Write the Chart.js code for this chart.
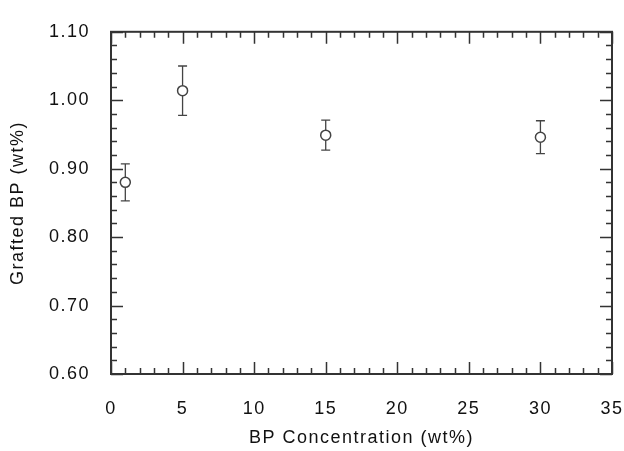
<!DOCTYPE html>
<html>
<head>
<meta charset="utf-8">
<script src="https://cdn.jsdelivr.net/npm/chart.js@4.4.1/dist/chart.umd.min.js"></script>
<style>
    html, body { margin: 0; padding: 0; background: #fff; }
    #wrap { width: 624px; height: 451px; }
</style>
</head>
<body>
<div id="wrap"><canvas id="bpChart" width="624" height="451"></canvas></div>
<script>
// Data
const bpConcentration = [1, 5, 15, 30];
const graftedBP = [0.880, 1.014, 0.949, 0.946];
const graftedErr = [0.027, 0.036, 0.022, 0.024];

const xTicks = [0, 5, 10, 15, 20, 25, 30, 35];
const yTicks = [0.60, 0.70, 0.80, 0.90, 1.00, 1.10];

const inkColor = '#333333';
const fontFamily = '"Liberation Sans", Arial, Helvetica, sans-serif';
const fontSize = 18;
const trackText = '1.5px';

// The original lettering is slightly tracked
const tracking = {
    id: 'tracking',
    beforeUpdate(chart) { chart.ctx.letterSpacing = trackText; },
    beforeLayout(chart) { chart.ctx.letterSpacing = trackText; },
    beforeDraw(chart) { chart.ctx.letterSpacing = trackText; }
};

// Error bars drawn under the markers
const errorBars = {
    id: 'errorBars',
    beforeDatasetsDraw(chart) {
        const { ctx, scales: { x, y } } = chart;
        ctx.save();
        ctx.strokeStyle = '#444444';
        ctx.lineWidth = 1.3;
        bpConcentration.forEach((xv, i) => {
            const px = x.getPixelForValue(xv);
            const top = y.getPixelForValue(graftedBP[i] + graftedErr[i]);
            const bot = y.getPixelForValue(graftedBP[i] - graftedErr[i]);
            ctx.beginPath();
            ctx.moveTo(px, top);
            ctx.lineTo(px, bot);
            ctx.moveTo(px - 4.5, top);
            ctx.lineTo(px + 4.5, top);
            ctx.moveTo(px - 4.5, bot);
            ctx.lineTo(px + 4.5, bot);
            ctx.stroke();
        });
        ctx.restore();
    }
};

// Box frame with inward ticks on all four sides
const frameTicks = {
    id: 'frameTicks',
    afterDraw(chart) {
        const { ctx, chartArea: a, scales: { x, y } } = chart;
        ctx.save();
        ctx.strokeStyle = inkColor;
        ctx.lineWidth = 1.5;
        ctx.beginPath();
        for (let v = 0; v <= 35; v += 1) {
            const px = Math.round(x.getPixelForValue(v)) + 0.5;
            const len = v % 5 === 0 ? 12 : 6;
            ctx.moveTo(px, a.bottom);
            ctx.lineTo(px, a.bottom - len);
            ctx.moveTo(px, a.top);
            ctx.lineTo(px, a.top + len);
        }
        for (let k = 0; k <= 25; k++) {
            const v = 0.60 + k * 0.02;
            const py = Math.round(y.getPixelForValue(v)) + 0.5;
            const len = k % 5 === 0 ? 12 : 6;
            ctx.moveTo(a.left, py);
            ctx.lineTo(a.left + len, py);
            ctx.moveTo(a.right, py);
            ctx.lineTo(a.right - len, py);
        }
        ctx.stroke();
        ctx.lineWidth = 2;
        ctx.strokeRect(a.left, a.top, a.right - a.left, a.bottom - a.top);
        ctx.restore();
    }
};

const chart = new Chart(document.getElementById('bpChart').getContext('2d'), {
    type: 'scatter',
    data: {
        datasets: [{
            label: 'Grafted BP',
            data: bpConcentration.map((xv, i) => ({ x: xv, y: graftedBP[i] })),
            pointStyle: 'circle',
            pointRadius: 5,
            pointBorderWidth: 1.5,
            pointBorderColor: '#444444',
            pointBackgroundColor: '#ffffff',
            showLine: false
        }]
    },
    options: {
        responsive: false,
        animation: false,
        layout: {
            padding: { top: 22, right: 12, left: 0, bottom: 0 }
        },
        plugins: {
            legend: { display: false },
            tooltip: { enabled: false }
        },
        scales: {
            x: {
                type: 'linear',
                min: 0,
                max: 35,
                afterBuildTicks: (scale) => { scale.ticks = xTicks.map(v => ({ value: v })); },
                afterFit: (scale) => {
                    scale.height = 77;
                    scale.paddingLeft = 0;
                    scale.paddingRight = 12;
                },
                grid: { display: false, drawTicks: false },
                border: { display: false },
                ticks: {
                    color: '#111111',
                    padding: 24,
                    maxRotation: 0,
                    font: { family: fontFamily, size: fontSize }
                },
                title: {
                    display: true,
                    text: 'BP Concentration (wt%)',
                    color: '#111111',
                    padding: { top: 10, bottom: 2 },
                    font: { family: fontFamily, size: fontSize }
                }
            },
            y: {
                type: 'linear',
                min: 0.60,
                max: 1.10,
                afterBuildTicks: (scale) => { scale.ticks = yTicks.map(v => ({ value: v })); },
                afterFit: (scale) => { scale.width = 111; },
                grid: { display: false, drawTicks: false },
                border: { display: false },
                ticks: {
                    color: '#111111',
                    padding: 21,
                    font: { family: fontFamily, size: fontSize },
                    callback: (v) => Number(v).toFixed(2)
                },
                title: {
                    display: true,
                    text: 'Grafted BP (wt%)',
                    color: '#111111',
                    padding: { top: 7, bottom: 0 },
                    font: { family: fontFamily, size: fontSize }
                }
            }
        }
    },
    plugins: [tracking, errorBars, frameTicks]
});
</script>
</body>
</html>
